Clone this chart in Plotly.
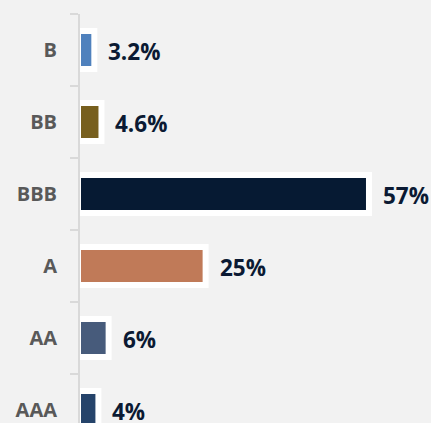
import plotly.graph_objects as go

categories = ["AAA", "AA", "A", "BBB", "BB", "B"]
values = [4, 6, 25, 57, 4.6, 3.2]
labels = ["4%", "6%", "25%", "57%", "4.6%", "3.2%"]
colors = ["#25436a", "#475b7b", "#c07a58", "#061a33", "#775f1e", "#4f81bd"]

fig = go.Figure()
fig.add_trace(go.Bar(
    y=categories, x=values, orientation="h",
    marker=dict(color=colors, line=dict(color="white", width=6)),
    width=0.53, hoverinfo="skip",
))

for c, v, t in zip(categories, values, labels):
    fig.add_annotation(x=v, y=c, text=t, showarrow=False, xanchor="left",
                       yanchor="middle", xshift=12, yshift=-1,
                       font=dict(family="Open Sans", size=22.5, color="#0b1a33", weight="bold"))

fig.update_layout(
    width=431, height=423,
    margin=dict(l=80, r=0, t=14, b=0),
    paper_bgcolor="#f2f2f2", plot_bgcolor="#f2f2f2",
    showlegend=False,
    xaxis=dict(range=[0.392, 69.15], visible=False, showgrid=False, zeroline=False),
    yaxis=dict(type="category", categoryorder="array", categoryarray=categories,
               range=[-0.18, 5.5], showline=True, linecolor="#d9d9d9", linewidth=2,
               ticks="outside", tickson="boundaries", ticklen=8, tickwidth=2,
               tickcolor="#d9d9d9", ticklabelstandoff=17, showgrid=False,
               tickfont=dict(family="Open Sans", size=20, color="#595959", weight="bold")),
)

fig.write_html("out.html", config={"displayModeBar": False},
               post_script="document.body.style.margin='0';document.body.style.overflow='hidden';")
